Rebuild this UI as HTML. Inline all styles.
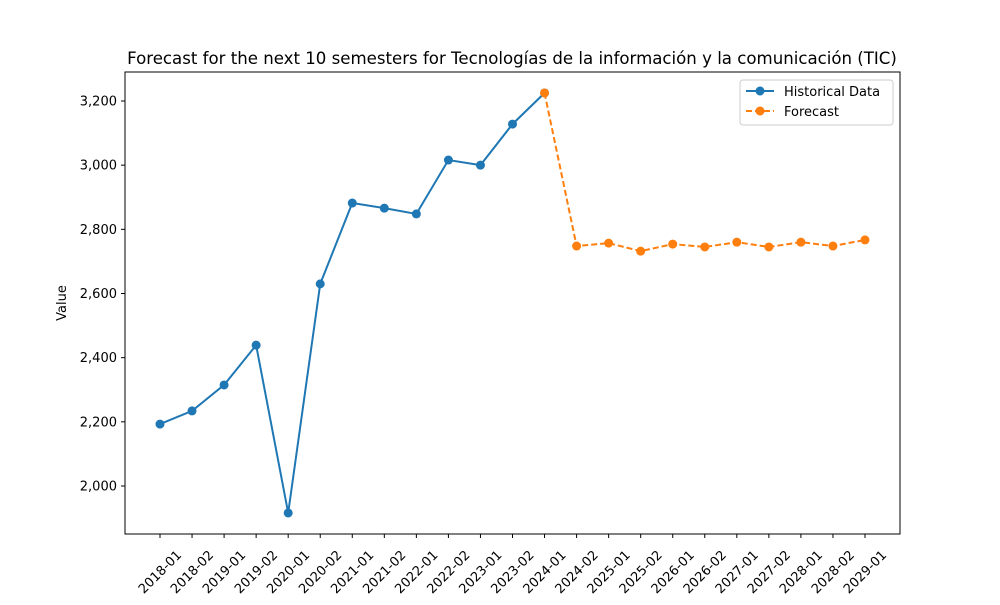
<!DOCTYPE html>
<html><head><meta charset="utf-8"><style>
body{margin:0;background:#fff;font-family:"Liberation Sans","DejaVu Sans",sans-serif;}
</style></head><body>
<svg id="chart" width="1000" height="600" xmlns="http://www.w3.org/2000/svg" font-family="DejaVu Sans, Liberation Sans, sans-serif">
<rect width="1000" height="600" fill="#fff"/>
<text x="512" y="64" text-anchor="middle" font-size="16.6">Forecast for the next 10 semesters for Tecnologías de la información y la comunicación (TIC)</text>
<text transform="translate(66,303) rotate(-90)" text-anchor="middle" font-size="13">Value</text>
<g id="axes"></g>
<rect x="125" y="72" width="775" height="462" fill="none" stroke="#000" stroke-width="1"/>
<g>
<rect x="740" y="80" width="153" height="45" fill="#fff" stroke="#ccc" rx="3"/>
<g>
<line x1="746" y1="91" x2="774" y2="91" stroke="#1f77b4" stroke-width="2"/><circle cx="760" cy="91" r="4.5" fill="#1f77b4"/>
<text x="784" y="96" font-size="13">Historical Data</text></g>
<g>
<line x1="746" y1="111" x2="774" y2="111" stroke="#ff7f0e" stroke-width="2" stroke-dasharray="6,3"/><circle cx="760" cy="111" r="4.5" fill="#ff7f0e"/>
<text x="784" y="116" font-size="13">Forecast</text></g>
</g>
</svg>
<script>
const categories=["2018-01","2018-02","2019-01","2019-02","2020-01","2020-02","2021-01","2021-02","2022-01","2022-02","2023-01","2023-02","2024-01","2024-02","2025-01","2025-02","2026-01","2026-02","2027-01","2027-02","2028-01","2028-02","2029-01"];
const historical=[2193,2234,2315,2439,1916,2630,2882,2866,2848,3016,3000,3128,3225];
const forecast=[3225,2748,2757,2732,2754,2745,2760,2745,2760,2748,2767];
const forecastStart=12;
const yTicks=[2000,2200,2400,2600,2800,3000,3200];
const yTickLabels=["2,000","2,200","2,400","2,600","2,800","3,000","3,200"];

const NS="http://www.w3.org/2000/svg";
const g=document.getElementById('axes');
function x(i){return 160+i*(865-160)/(categories.length-1);}
function y(v){return 486-(v-2000)*(385/1200);}
function mk(t,a){const e=document.createElementNS(NS,t);for(const k in a)e.setAttribute(k,a[k]);g.appendChild(e);return e;}
yTicks.forEach((v,i)=>{
 const t=mk('line',{x1:121,x2:125,y1:y(v),y2:y(v),stroke:'#000'});
 
 
 const l=mk('text',{x:117,y:y(v)+4.5,'text-anchor':'end','font-size':13});
 
 
 l.textContent=yTickLabels[i];
});
categories.forEach((c,i)=>{
 const t=mk('line',{x1:x(i),x2:x(i),y1:534,y2:538,stroke:'#000'});
 
 
 const l=mk('text',{x:0,y:0,'text-anchor':'middle','font-size':13,transform:`translate(${x(i)+3},${575}) rotate(-45)`});
 
 
 l.textContent=c;
});
function series(vals,off,color,dash,name){
 const p=mk('polyline',{points:vals.map((v,i)=>x(i+off)+','+y(v)).join(' '),fill:'none',stroke:color,'stroke-width':2,'stroke-dasharray':dash});
 
 
 vals.forEach((v,i)=>{
  const c=mk('circle',{cx:x(i+off),cy:y(v),r:4.5,fill:color});
  
  
 });
}
series(historical,0,'#1f77b4','none','historical');
series(forecast,forecastStart,'#ff7f0e','6,3','forecast');
</script>
</body></html>
